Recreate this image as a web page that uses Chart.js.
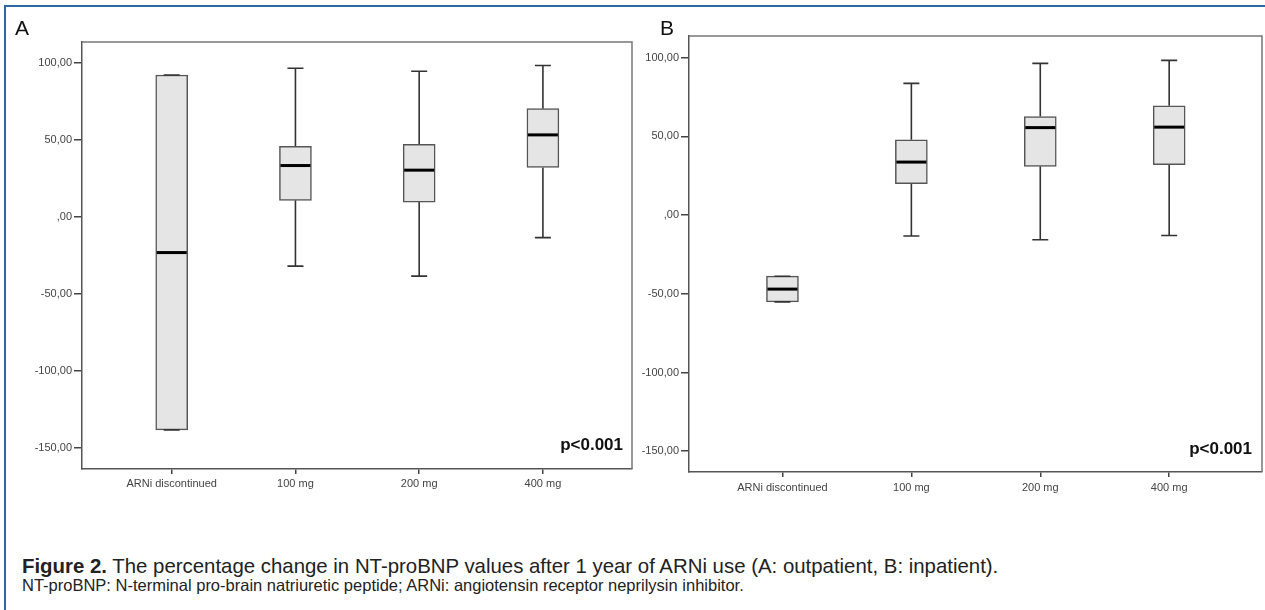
<!DOCTYPE html>
<html>
<head>
<meta charset="utf-8">
<script src="https://cdn.jsdelivr.net/npm/chart.js@4.4.1/dist/chart.umd.min.js"></script>
<style>
html,body{margin:0;padding:0;background:#fff;width:1265px;height:610px;overflow:hidden;font-family:"Liberation Sans",Arial,sans-serif;}
#frame{position:absolute;left:4px;top:5px;width:1300px;height:700px;border-top:2px solid #2b68a6;border-left:2px solid #2b68a6;box-sizing:border-box;}
canvas{position:absolute;}
#cA{left:0;top:0;}
#cB{left:636px;top:0;}
.lab{position:absolute;font-size:21px;color:#111;line-height:21px;}
.pv{position:absolute;font-weight:bold;font-size:17px;color:#111;line-height:17px;white-space:nowrap;}
.cap1{position:absolute;left:22px;top:556px;font-size:20.4px;line-height:20px;color:#222;white-space:nowrap;}
.cap2{position:absolute;left:22px;top:577px;font-size:16.5px;line-height:16px;color:#222;white-space:nowrap;}
</style>
</head>
<body>
<div id="frame"></div>
<canvas id="cA" width="640" height="500"></canvas>
<canvas id="cB" width="629" height="500"></canvas>
<div class="lab" style="left:15px;top:17px;">A</div>
<div class="lab" style="left:660px;top:17px;">B</div>
<div class="pv" style="right:642px;top:436px;">p&lt;0.001</div>
<div class="pv" style="right:13px;top:440px;">p&lt;0.001</div>
<div class="cap1"><b>Figure 2.</b> The percentage change in NT-proBNP values after 1 year of ARNi use (A: outpatient, B: inpatient).</div>
<div class="cap2">NT-proBNP: N-terminal pro-brain natriuretic peptide; ARNi: angiotensin receptor neprilysin inhibitor.</div>
<script>
// ---- data ----
const categories = ["ARNi discontinued", "100 mg", "200 mg", "400 mg"];
const yTickValues = [100, 50, 0, -50, -100, -150];
const yTickLabels = ["100,00", "50,00", ",00", "-50,00", "-100,00", "-150,00"];

// Panel A (outpatient)
const minA = [-138.2, -31.9, -38.4, -13.4];
const q1A  = [-138.2, 10.8, 9.7, 32.1];
const medA = [-23.1, 33.4, 30.4, 53.3];
const q3A  = [92.2, 45.9, 47.1, 70.3];
const maxA = [92.2, 96.6, 94.6, 98.3];

// Panel B (inpatient)
const minB = [-55.1, -13.3, -15.6, -12.9];
const q1B  = [-55.1, 20.0, 31.0, 32.0];
const medB = [-47.0, 33.7, 55.6, 55.9];
const q3B  = [-38.8, 47.9, 62.6, 69.5];
const maxB = [-38.8, 83.7, 96.4, 98.3];

const FONT = '"Liberation Sans", Arial, sans-serif';

function boxPartsPlugin(mins, q1s, meds, q3s, maxs) {
  return {
    id: 'boxparts',
    beforeDatasetsDraw(chart) {
      const ctx = chart.ctx, xs = chart.scales.x, ys = chart.scales.y;
      ctx.save();
      ctx.strokeStyle = '#333';
      ctx.lineWidth = 1.6;
      for (let i = 0; i < categories.length; i++) {
        const x = xs.getPixelForValue(i);
        const yMin = ys.getPixelForValue(mins[i]);
        const yMax = ys.getPixelForValue(maxs[i]);
        const yQ1 = ys.getPixelForValue(q1s[i]);
        const yQ3 = ys.getPixelForValue(q3s[i]);
        ctx.beginPath();
        ctx.moveTo(x, yMax); ctx.lineTo(x, yQ3);
        ctx.moveTo(x, yQ1); ctx.lineTo(x, yMin);
        ctx.stroke();
      }
      ctx.restore();
    },
    afterDatasetsDraw(chart) {
      const ctx = chart.ctx, xs = chart.scales.x, ys = chart.scales.y;
      ctx.save();
      for (let i = 0; i < categories.length; i++) {
        const x = xs.getPixelForValue(i);
        ctx.strokeStyle = '#333';
        ctx.lineWidth = 1.6;
        ctx.beginPath();
        const yMin = ys.getPixelForValue(mins[i]);
        const yMax = ys.getPixelForValue(maxs[i]);
        ctx.moveTo(x - 8, yMin); ctx.lineTo(x + 8, yMin);
        ctx.moveTo(x - 8, yMax); ctx.lineTo(x + 8, yMax);
        ctx.stroke();
        ctx.strokeStyle = '#000';
        ctx.lineWidth = 3;
        const yMed = ys.getPixelForValue(meds[i]);
        ctx.beginPath();
        ctx.moveTo(x - 15, yMed); ctx.lineTo(x + 15, yMed);
        ctx.stroke();
      }
      ctx.restore();
    },
    afterDraw(chart) {
      const ctx = chart.ctx, a = chart.chartArea;
      ctx.save();
      ctx.strokeStyle = '#777';
      ctx.lineWidth = 1.5;
      ctx.beginPath();
      ctx.moveTo(a.left, a.top); ctx.lineTo(a.right, a.top); ctx.lineTo(a.right, a.bottom);
      ctx.stroke();
      ctx.restore();
    }
  };
}

function makeChart(id, mins, q1s, meds, q3s, maxs, cfg) {
  return new Chart(document.getElementById(id), {
    type: 'bar',
    data: {
      datasets: [{
        data: categories.map((c, i) => ({ x: i, y: [q1s[i], q3s[i]] })),
        backgroundColor: '#e5e5e5',
        borderColor: '#555',
        borderWidth: 1.5,
        borderSkipped: false,
        barThickness: 32
      }]
    },
    options: {
      responsive: false,
      animation: false,
      devicePixelRatio: 1,
      layout: { padding: cfg.padding },
      plugins: { legend: { display: false }, tooltip: { enabled: false } },
      scales: {
        x: {
          type: 'linear',
          min: -0.725, max: 3.72,
          offset: false,
          afterBuildTicks: s => { s.ticks = categories.map((c, i) => ({ value: i })); },
          afterFit: s => { s.height = cfg.xHeight; },
          ticks: {
            callback: v => categories[v],
            font: { family: FONT, size: 11 },
            color: '#444',
            padding: cfg.xPad,
            maxRotation: 0, autoSkip: false
          },
          grid: { display: true, offset: false, drawOnChartArea: false, drawTicks: true, tickLength: 5, color: '#444', lineWidth: 1.5 },
          border: { display: true, color: '#555', width: 1.5 }
        },
        y: {
          min: cfg.yMin, max: cfg.yMax,
          afterBuildTicks: s => { s.ticks = yTickValues.map(v => ({ value: v })); },
          afterFit: s => { s.width = cfg.yWidth; },
          ticks: {
            callback: v => yTickLabels[yTickValues.indexOf(v)],
            font: { family: FONT, size: 11 },
            color: '#444',
            padding: 2,
            autoSkip: false
          },
          grid: { display: true, drawOnChartArea: false, drawTicks: true, tickLength: 8, color: '#444', lineWidth: 1.5 },
          border: { display: true, color: '#555', width: 1.5 }
        }
      }
    },
    plugins: [boxPartsPlugin(mins, q1s, meds, q3s, maxs)]
  });
}

makeChart('cA', minA, q1A, medA, q3A, maxA, {
  padding: { top: 42, right: 8, left: 0, bottom: 0 },
  xHeight: 31, yWidth: 82, xPad: 3, yMin: -163.6, yMax: 113.6
});
makeChart('cB', minB, q1B, medB, q3B, maxB, {
  padding: { top: 36, right: 3, left: 0, bottom: 0 },
  xHeight: 28, yWidth: 53, xPad: 4, yMin: -163.2, yMax: 113.8
});
</script>
</body>
</html>
